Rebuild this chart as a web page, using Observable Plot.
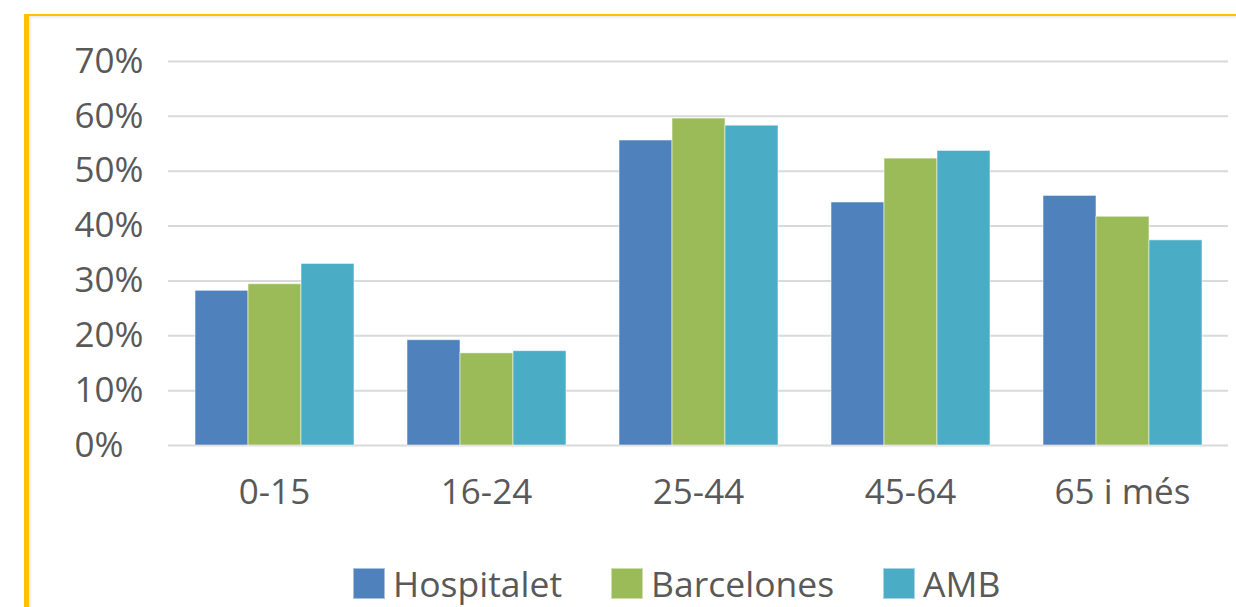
<!DOCTYPE html>
<html>
<head>
<meta charset="utf-8">
<script src="https://cdn.jsdelivr.net/npm/d3@7"></script>
<script src="https://cdn.jsdelivr.net/npm/@observablehq/plot@0.6"></script>
<style>
  html, body { margin: 0; padding: 0; background: #fff; }
  #wrap { position: relative; width: 1236px; height: 607px; overflow: hidden; background: #fff; font-family: "Open Sans", sans-serif; }
  #frame { position: absolute; left: 24px; top: 14px; right: 0; bottom: -10px; border-left: 5px solid #FFC000; border-top: 2px solid #FFC000; box-shadow: inset 2px 2px 2px rgba(0,0,0,0.08); }
  #chart { position: absolute; left: 0; top: 0; }
  #legend { position: absolute; left: 353px; top: 562px; display: flex; align-items: center; font-size: 35.5px; line-height: 42px; color: #595959; white-space: nowrap; }
  #legend .item { display: flex; align-items: center; margin-right: 49px; }
  #legend .sw { width: 32px; height: 31px; margin-right: 8px; box-sizing: border-box; border: 1px solid rgba(255,255,255,0.5); }
</style>
</head>
<body>
<div id="wrap">
  <div id="frame"></div>
  <div id="chart"></div>
  <div id="legend"></div>
</div>
<script>
const groups = ["0-15", "16-24", "25-44", "45-64", "65 i més"];
const series = ["Hospitalet", "Barcelones", "AMB"];
const hospitalet = [28.2, 19.2, 55.6, 44.3, 45.5];
const barcelones = [29.4, 16.8, 59.6, 52.3, 41.7];
const amb = [33.1, 17.2, 58.3, 53.7, 37.4];
const colors = ["#4F81BD", "#9BBB59", "#4BACC6"];
const yTicks = [0, 10, 20, 30, 40, 50, 60, 70];

const valuesBySeries = [hospitalet, barcelones, amb];
const rows = [];
groups.forEach((g, i) => {
  series.forEach((s, j) => rows.push({group: g, series: s, value: valuesBySeries[j][i]}));
});

const chart = Plot.plot({
  width: 1236,
  height: 531,
  marginLeft: 167,
  marginRight: 7,
  marginTop: 61,
  marginBottom: 86,
  style: {fontFamily: "'Open Sans', sans-serif", fontSize: "35px", color: "#595959", background: "transparent", overflow: "visible"},
  fx: {domain: groups, padding: 0, label: null},
  x: {domain: series, paddingInner: 0, paddingOuter: 0.5, axis: null},
  y: {domain: [0, 70], axis: null},
  color: {domain: series, range: colors},
  marks: [
    Plot.ruleY(yTicks, {y: d => d, stroke: "#D9D9D9", strokeWidth: 2}),
    Plot.text(yTicks, {fx: () => groups[0], y: d => d, text: d => d + "%", frameAnchor: "left", textAnchor: "start", dx: -94, fill: "#595959", fontSize: 35}),
    Plot.barY(rows, {fx: "group", x: "series", y: "value", fill: "series", stroke: "rgba(255,255,255,0.55)", strokeWidth: 1}),
    Plot.axisFx({anchor: "bottom", tickSize: 0, tickPadding: 34, label: null, fontSize: 35, fill: "#595959"})
  ]
});
document.getElementById("chart").appendChild(chart);

const legend = document.getElementById("legend");
series.forEach((s, j) => {
  const item = document.createElement("div");
  item.className = "item";
  const sw = document.createElement("div");
  sw.className = "sw";
  sw.style.background = colors[j];
  const t = document.createElement("span");
  t.textContent = s;
  item.appendChild(sw);
  item.appendChild(t);
  legend.appendChild(item);
});
</script>
</body>
</html>
